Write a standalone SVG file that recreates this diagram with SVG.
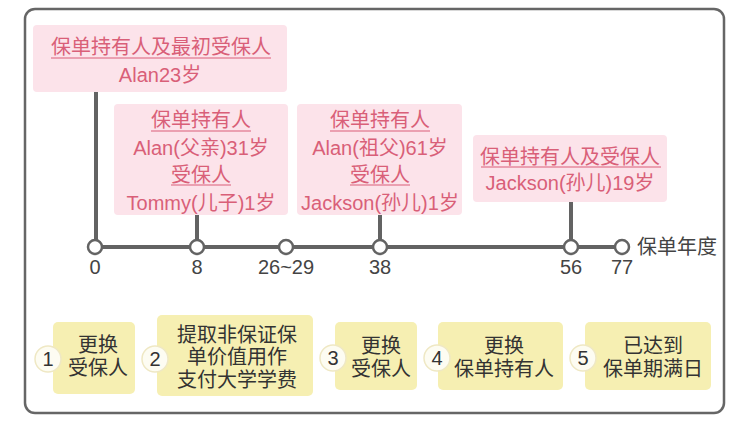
<svg xmlns="http://www.w3.org/2000/svg" width="752" height="427" viewBox="0 0 752 427">
<style>
.t{font-family:"Liberation Sans","Noto Sans CJK SC",sans-serif;font-size:20px;text-anchor:middle}
.pk{fill:#fce3ea}
.pt{fill:#d95f78}
.ul{stroke:#d95f78;stroke-width:1.2}
.yb{fill:#f6efb2}
.yt{fill:#333}
.nc{fill:#fdfcf2;stroke:#efe8c4;stroke-width:1.5}
.ln{stroke:#636363;stroke-width:4;fill:none}
.dot{fill:#fff;stroke:#636363;stroke-width:2.5}
.lb{fill:#444}
</style>
<rect x="0" y="0" width="752" height="427" fill="#fff"/>
<rect x="25" y="9" width="699" height="404" rx="10" fill="#fff" stroke="#666" stroke-width="2.5"/>
<g id="connectors">
<line class="ln" x1="95" y1="247" x2="622" y2="247"/>
<line class="ln" x1="96" y1="92" x2="96" y2="240" stroke-width="3.5"/>
<line class="ln" x1="197" y1="215" x2="197" y2="240" stroke-width="3.5"/>
<line class="ln" x1="380" y1="215" x2="380" y2="240" stroke-width="3.5"/>
<line class="ln" x1="571" y1="202" x2="571" y2="240" stroke-width="3.5"/>
</g>
<g id="timeline">
<circle class="dot" cx="95" cy="247" r="7"/>
<circle class="dot" cx="197" cy="247" r="7"/>
<circle class="dot" cx="286" cy="247" r="7"/>
<circle class="dot" cx="380" cy="247" r="7"/>
<circle class="dot" cx="571" cy="247" r="7"/>
<circle class="dot" cx="622" cy="247" r="7"/>
<text class="t lb" x="95" y="274">0</text>
<text class="t lb" x="197" y="274">8</text>
<text class="t lb" x="286" y="274">26~29</text>
<text class="t lb" x="380" y="274">38</text>
<text class="t lb" x="571" y="274">56</text>
<text class="t lb" x="622" y="274">77</text>
<text class="t lb" x="677" y="254">保单年度</text>
</g>
<g id="p1">
<rect class="pk" x="33" y="25" width="254" height="67" rx="4"/>
<text class="t pt" x="161" y="54">保单持有人及最初受保人</text>
<line class="ul" x1="51" y1="58" x2="271" y2="58"/>
<text class="t pt" x="160" y="82">Alan23岁</text>
</g>
<g id="p2">
<rect class="pk" x="114" y="104" width="174" height="111" rx="4"/>
<text class="t pt" x="201" y="127">保单持有人</text>
<line class="ul" x1="151" y1="131" x2="251" y2="131"/>
<text class="t pt" x="201" y="155">Alan(父亲)31岁</text>
<text class="t pt" x="201" y="182">受保人</text>
<line class="ul" x1="171" y1="185" x2="231" y2="185"/>
<text class="t pt" x="201" y="210">Tommy(儿子)1岁</text>
</g>
<g id="p3">
<rect class="pk" x="297" y="104" width="165" height="111" rx="4"/>
<text class="t pt" x="380" y="127">保单持有人</text>
<line class="ul" x1="330" y1="131" x2="430" y2="131"/>
<text class="t pt" x="380" y="155">Alan(祖父)61岁</text>
<text class="t pt" x="380" y="182">受保人</text>
<line class="ul" x1="350" y1="185" x2="410" y2="185"/>
<text class="t pt" x="380" y="210">Jackson(孙儿)1岁</text>
</g>
<g id="p4">
<rect class="pk" x="473" y="135" width="194" height="67" rx="4"/>
<text class="t pt" x="570" y="164">保单持有人及受保人</text>
<line class="ul" x1="481" y1="167" x2="661" y2="167"/>
<text class="t pt" x="570" y="190">Jackson(孙儿)19岁</text>
</g>
<g id="y1">
<rect class="yb" x="53" y="322" width="82" height="72" rx="5"/>
<circle class="nc" cx="48" cy="359" r="13"/>
<text class="t yt" x="48" y="366">1</text>
<text class="t yt" x="98" y="352">更换</text>
<text class="t yt" x="98" y="375">受保人</text>
</g>
<g id="y2">
<rect class="yb" x="157" y="315" width="156" height="81" rx="5"/>
<circle class="nc" cx="155" cy="359" r="13"/>
<text class="t yt" x="155" y="366">2</text>
<text class="t yt" x="237" y="342">提取非保证保</text>
<text class="t yt" x="237" y="364">单价值用作</text>
<text class="t yt" x="237" y="387">支付大学学费</text>
</g>
<g id="y3">
<rect class="yb" x="335" y="322" width="82" height="68" rx="5"/>
<circle class="nc" cx="333" cy="358" r="13"/>
<text class="t yt" x="333" y="365">3</text>
<text class="t yt" x="381" y="353">更换</text>
<text class="t yt" x="381" y="376">受保人</text>
</g>
<g id="y4">
<rect class="yb" x="438" y="322" width="125" height="68" rx="5"/>
<circle class="nc" cx="437" cy="358" r="13"/>
<text class="t yt" x="437" y="365">4</text>
<text class="t yt" x="504" y="353">更换</text>
<text class="t yt" x="504" y="376">保单持有人</text>
</g>
<g id="y5">
<rect class="yb" x="585" y="322" width="126" height="68" rx="5"/>
<circle class="nc" cx="583" cy="358" r="13"/>
<text class="t yt" x="583" y="365">5</text>
<text class="t yt" x="653" y="353">已达到</text>
<text class="t yt" x="653" y="376">保单期满日</text>
</g>
</svg>
